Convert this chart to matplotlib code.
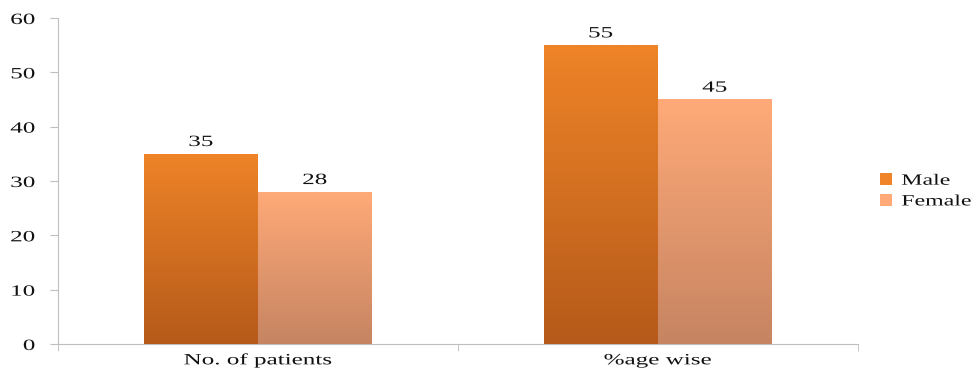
import numpy as np
import matplotlib
matplotlib.use('Agg')
import matplotlib.pyplot as plt
from matplotlib.colors import LinearSegmentedColormap
from matplotlib.patheffects import AbstractPathEffect
from matplotlib.transforms import Affine2D

# datos
categorias = ['No. of patients', '%age wise']
male = [35, 55]
female = [28, 45]
series = ['Male', 'Female']

# colores (arriba, abajo) del degradado
col_male = ('#EF8428', '#B55A1A')
col_female = ('#FFAA78', '#C68462')

plt.rcParams['font.family'] = ['Liberation Serif', 'DejaVu Serif']
FS = 11.3
TXT = '#111111'


# el texto del original sale estirado a lo ancho
class Estirar(AbstractPathEffect):
    def __init__(self, sx=1.6, anchor='center'):
        super().__init__()
        self.sx = sx
        self.anchor = anchor

    def draw_path(self, renderer, gc, tpath, affine, rgbFace=None):
        ext = tpath.get_extents()
        if self.anchor == 'left':
            cx = ext.x0
        elif self.anchor == 'right':
            cx = ext.x1
        else:
            cx = (ext.x0 + ext.x1) / 2
        t = Affine2D().translate(-cx, 0).scale(self.sx, 1).translate(cx, 0) + affine
        renderer.draw_path(gc, tpath, t, rgbFace)


SX = 1.6

fig = plt.figure(figsize=(9.79, 3.71), dpi=100)
ax = fig.add_axes([0.0592, 0.0728, 0.8168, 0.8787])

x = np.arange(len(categorias))
w = 0.285


def barras_degradado(xpos, vals, colores, label):
    cmap = LinearSegmentedColormap.from_list(label, [colores[1], colores[0]])
    barras = ax.bar(xpos, vals, w, align='edge', color=colores[0], label=label,
                    edgecolor='none', zorder=2)
    grad = np.linspace(0, 1, 256).reshape(-1, 1)
    for b in barras:
        x0, h, bw = b.get_x(), b.get_height(), b.get_width()
        im = ax.imshow(grad, cmap=cmap, origin='lower', aspect='auto',
                       extent=[x0, x0 + bw, 0, h], zorder=3)
        im.set_clip_path(b)
        ax.text(x0 + bw / 2, h + 0.7, str(int(h)), ha='center', va='bottom',
                fontsize=FS, color=TXT, zorder=4,
                path_effects=[Estirar(SX)])
    return barras


barras_degradado(x - w, male, col_male, series[0])
barras_degradado(x, female, col_female, series[1])

ax.set_xlim(-0.5, 1.5)
ax.set_ylim(0, 60)
ax.set_yticks(range(0, 61, 10))
ax.set_xticks(x)
ax.set_xticklabels(categorias, fontsize=FS, color=TXT)
ax.set_xticks([-0.5, 0.5, 1.5], minor=True)
ax.tick_params(axis='x', which='major', length=0, pad=6)
ax.tick_params(axis='x', which='minor', length=5, color='#BFBFBF')
ax.tick_params(axis='y', length=6, color='#BFBFBF', labelsize=FS,
               labelcolor=TXT, pad=10.5)

for lab in ax.get_xticklabels():
    lab.set_path_effects([Estirar(SX)])
for lab in ax.get_yticklabels():
    lab.set_path_effects([Estirar(SX, 'right')])

for s in ['top', 'right']:
    ax.spines[s].set_visible(False)
for s in ['left', 'bottom']:
    ax.spines[s].set_color('#BFBFBF')

leg = fig.legend(loc='center left', bbox_to_anchor=(0.892, 0.485), frameon=False,
                 fontsize=FS, handlelength=0.8, handleheight=0.8,
                 handletextpad=0.6, labelspacing=0.3, borderaxespad=0)
for t in leg.get_texts():
    t.set_color(TXT)
    t.set_path_effects([Estirar(SX * 0.95, 'left')])

plt.savefig('out.png', dpi=100)
